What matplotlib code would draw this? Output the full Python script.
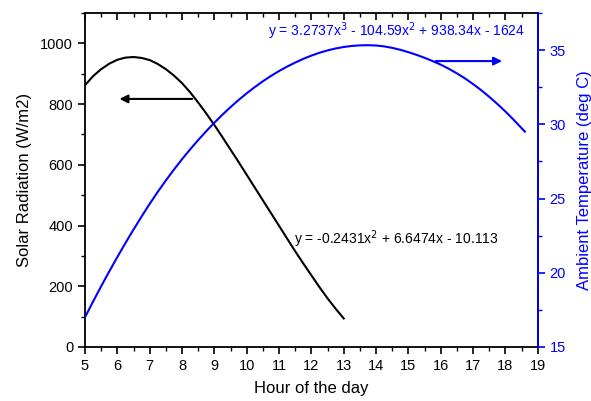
import matplotlib
matplotlib.use("Agg")
import matplotlib.pyplot as plt
from matplotlib.ticker import MultipleLocator

plt.rcParams['font.family'] = ['Liberation Sans', 'DejaVu Sans']

# solar radiation (W/m2) vs hour
hours_rad = [5, 5.25, 5.5, 5.75, 6, 6.25, 6.5, 6.75, 7, 7.25, 7.5, 7.75, 8, 8.25, 8.5,
             8.75, 9, 9.25, 9.5, 9.75, 10, 10.25, 10.5, 10.75, 11, 11.25, 11.5, 11.75,
             12, 12.25, 12.5, 12.75, 13]
radiation = [862, 892, 915, 933, 946, 953, 955, 952, 945, 932, 915, 894, 869, 839, 805,
             769, 731, 691, 650, 609, 567, 525, 483, 441, 399, 357, 315, 275,
             236, 197, 160, 126, 94]

# ambient temperature (deg C) vs hour
hours_temp = [5, 5.25, 5.5, 5.75, 6, 6.25, 6.5, 6.75, 7, 7.25, 7.5, 7.75, 8, 8.25, 8.5,
              8.75, 9, 9.25, 9.5, 9.75, 10, 10.25, 10.5, 10.75, 11, 11.25, 11.5, 11.75,
              12, 12.25, 12.5, 12.75, 13, 13.25, 13.5, 13.75, 14, 14.25, 14.5, 14.75,
              15, 15.25, 15.5, 15.75, 16, 16.25, 16.5, 16.75, 17, 17.25, 17.5, 17.75,
              18, 18.25, 18.6]
temperature = [17.0, 18.06, 19.09, 20.09, 21.06, 22.0, 22.91, 23.79, 24.64, 25.45, 26.22,
               26.95, 27.65, 28.31, 28.94, 29.54, 30.11, 30.65, 31.16, 31.64, 32.09, 32.51,
               32.9, 33.26, 33.59, 33.89, 34.16, 34.41, 34.63, 34.82, 34.98, 35.11, 35.21,
               35.28, 35.32, 35.33, 35.31, 35.25, 35.15, 35.02, 34.86, 34.68, 34.48, 34.26,
               34.02, 33.74, 33.43, 33.09, 32.71, 32.3, 31.85, 31.37, 30.86, 30.31, 29.51]

BLUE = '#0000ff'

fig = plt.figure(figsize=(5.91, 4.01), dpi=100)
ax = fig.add_axes([0.1438, 0.1347, 0.910 - 0.1438, 0.9676 - 0.1347])
ax2 = ax.twinx()

ax.plot(hours_rad, radiation, color='black', lw=1.5)
ax2.plot(hours_temp, temperature, color=BLUE, lw=1.5)

ax.set_xlim(5, 19)
ax.set_ylim(0, 1100)
ax2.set_ylim(15, 37.5)

ax.xaxis.set_major_locator(MultipleLocator(1))
ax.xaxis.set_minor_locator(MultipleLocator(0.5))
ax.yaxis.set_major_locator(MultipleLocator(200))
ax.yaxis.set_minor_locator(MultipleLocator(100))
ax2.yaxis.set_major_locator(MultipleLocator(5))
ax2.yaxis.set_minor_locator(MultipleLocator(2.5))

for s in ax.spines.values():
    s.set_linewidth(1.3)
ax2.spines['right'].set_color(BLUE)
ax2.spines['right'].set_linewidth(1.3)
for s in ['left', 'top', 'bottom']:
    ax2.spines[s].set_visible(False)

ax.tick_params(axis='both', which='major', direction='out', length=5, width=1.2, labelsize=10.5)
ax.tick_params(axis='both', which='minor', direction='out', length=3, width=1.0)
ax.tick_params(axis='x', which='both', top=True)
ax2.tick_params(axis='y', which='major', direction='out', length=5, width=1.2,
                colors=BLUE, labelsize=10.5)
ax2.tick_params(axis='y', which='minor', direction='out', length=3, width=1.0, colors=BLUE)

# top ticks point inward
for t in ax.xaxis.get_major_ticks():
    t.tick2line.set_marker(matplotlib.markers.TICKDOWN)
    t.tick2line.set_markersize(5)
for t in ax.xaxis.get_minor_ticks():
    t.tick2line.set_marker(matplotlib.markers.TICKDOWN)
    t.tick2line.set_markersize(3)

ax.set_xlabel('Hour of the day', fontsize=12, labelpad=6)
ax.set_ylabel('Solar Radiation (W/m2)', fontsize=12, labelpad=6)
ax2.set_ylabel('Ambient Temperature (deg C)', fontsize=12, color=BLUE, labelpad=8)

# arrows pointing to each axis
ax.annotate('', xy=(5.98, 817), xytext=(8.4, 817),
            arrowprops=dict(arrowstyle='-|>', color='black', lw=1.5, mutation_scale=12))
ax2.annotate('', xy=(17.98, 34.26), xytext=(15.76, 34.26),
             arrowprops=dict(arrowstyle='-|>', color=BLUE, lw=1.5, mutation_scale=12))

ax.text(11.47, 354, r'y = -0.2431x$^{2}$ + 6.6474x - 10.113', fontsize=10,
        color='black', va='center')
ax2.text(10.65, 36.3, r'y = 3.2737x$^{3}$ - 104.59x$^{2}$ + 938.34x - 1624', fontsize=10,
         color=BLUE, va='center')

fig.savefig('out.png', dpi=100)
